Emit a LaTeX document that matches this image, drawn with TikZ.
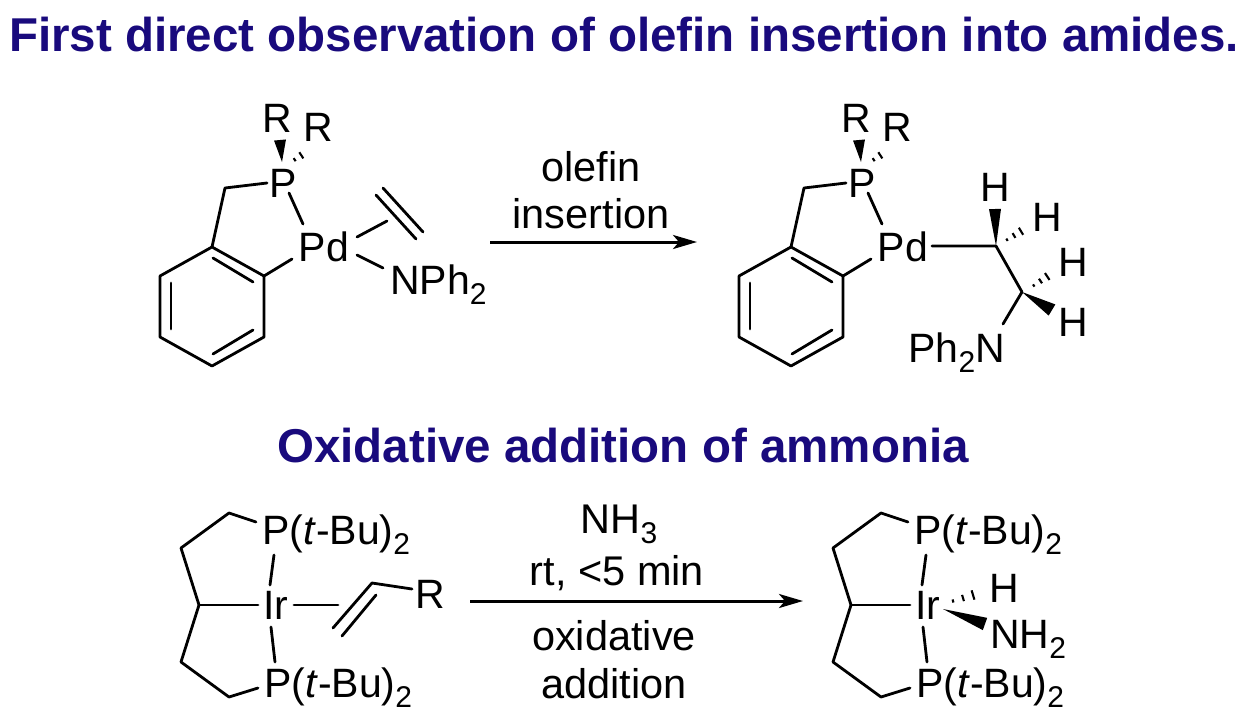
\documentclass[tikz,border=0pt]{standalone}
\usepackage{fontspec}
\setmainfont{Liberation Sans}
\usetikzlibrary{arrows.meta,calc}
\definecolor{headblue}{RGB}{25,10,125}
\newcommand{\subs}[1]{\raisebox{-0.26em}{\fontsize{30}{30}\selectfont #1}}
\newcommand{\wedgebond}[3]{\fill ($(#2)!#3pt!90:(#1)$) -- (#1) -- ($(#2)!#3pt!-90:(#1)$) -- cycle;}
\newcommand{\hashbond}[4]{\foreach \k in {1,...,#4} {
  \pgfmathsetmacro{\f}{\k/#4}
  \draw [line width=2.1pt] ($(#1)!\f!(#2)!\f*#3 pt!90:(#2)$) -- ($(#1)!\f!(#2)!\f*#3 pt!-90:(#2)$);}}
\tikzset{
  atom/.style={inner sep=0pt,font=\fontsize{41}{41}\selectfont},
  rxn/.style={inner sep=0pt,anchor=base,font=\fontsize{41.5}{41.5}\selectfont},
  head/.style={inner sep=0pt,anchor=base,text=headblue,font=\bfseries\fontsize{47.5}{47.5}\selectfont},
  bond/.style={line width=2.8pt,line cap=round,line join=round},
  rxnarrow/.style={line width=3pt,-{Stealth[length=24pt,width=14pt,inset=6pt]}},
  cyclopd/.pic={
    \coordinate (c1) at (0,0);
    \coordinate (c2) at (52,29);
    \coordinate (c3) at (52,90);
    \coordinate (c4) at (0,119);
    \coordinate (c5) at (-52,90);
    \coordinate (c6) at (-52,29);
    \coordinate (ch2) at (13,-59);
    \node [atom] (P) at (71,-64) {P};
    \node [atom] (Pd) at (112,0) {Pd};
    \node [atom] (R1) at (65,-129) {R};
    \node [atom] (R2) at (106,-120) {R};
    \coordinate (wd) at (68,-107);
    \coordinate (wa) at (70,-85);
    \coordinate (ha) at (76,-83);
    \coordinate (hb) at (96,-96);
    \coordinate (pe) at (55,-64);
    \coordinate (pdu) at (77,-54);
    \coordinate (pdv) at (91,-23);
    \coordinate (pdw) at (80,12);
    \coordinate (in1a) at (1,11);
    \coordinate (in1b) at (41,35);
    \coordinate (in2a) at (41,83);
    \coordinate (in2b) at (1,107);
    \coordinate (in3a) at (-41,36);
    \coordinate (in3b) at (-41,82);
    \draw [bond] (c1) -- (c2) -- (c3) -- (c4) -- (c5) -- (c6) -- cycle;
    \draw [bond] (in1a) -- (in1b);
    \draw [bond] (in2a) -- (in2b);
    \draw [bond] (in3a) -- (in3b);
    \draw [bond] (c1) -- (ch2) -- (pe);
    \draw [bond] (pdu) -- (pdv);
    \draw [bond] (c2) -- (pdw);
    \wedgebond{wa}{wd}{6}
    \hashbond{ha}{hb}{5.5}{3}
  },
  pincer/.pic={
    \coordinate (a1) at (-47,-92);
    \coordinate (a2) at (-95,-57);
    \coordinate (a3) at (-77,0);
    \coordinate (a4) at (-95,57);
    \coordinate (a5) at (-47,92);
    \node [atom,anchor=center] (Ir) at (0,0) {Ir};
    \node [atom,anchor=base west] (Pu) at (-14,-61) {P(\textit{t}-Bu)\subs{2}};
    \node [atom,anchor=base west] (Pl) at (-12,92) {P(\textit{t}-Bu)\subs{2}};
    \coordinate (irw) at (-18,0);
    \coordinate (iru) at (-6,-20);
    \coordinate (irl) at (-5,22);
    \coordinate (Put) at (-2,-50);
    \coordinate (Plt) at (-1,57);
    \coordinate (Pub) at (-20,-83);
    \coordinate (Plb) at (-18,83);
    \draw [bond] (Pub) -- (a1) -- (a2) -- (a3) -- (a4) -- (a5) -- (Plb);
    \draw [bond] (a3) -- (irw);
    \draw [bond] (iru) -- (Put);
    \draw [bond] (irl) -- (Plt);
  }
}
\begin{document}
\begin{tikzpicture}[x=1pt,y=-1pt]
\useasboundingbox (0,0) rectangle (1248,718);
\node [head] (title1) at (624,51) {First direct observation of olefin insertion into amides.};
\node [head] (title2) at (623,462) {Oxidative addition of ammonia};
% top left
\pic (l) at (212,247) {cyclopd};
\coordinate (ol1) at (376,195);
\coordinate (ol2) at (416,239);
\coordinate (ol3) at (383,188);
\coordinate (ol4) at (423,232);
\coordinate (pdo) at (357,237);
\coordinate (olm) at (387,221);
\coordinate (pdn) at (357,255);
\coordinate (nbd) at (383,268);
\node [atom,anchor=base west] (nph) at (390,294) {NPh\subs{2}};
\draw [bond] (ol1) -- (ol2);
\draw [bond] (ol3) -- (ol4);
\draw [bond] (pdo) -- (olm);
\draw [bond] (pdn) -- (nbd);
% top arrow
\coordinate (a1s) at (490,242);
\coordinate (a1e) at (697,242);
\draw [rxnarrow] (a1s) -- (a1e);
\node [rxn] (lab1) at (591,181) {olefin};
\node [rxn] (lab2) at (591,228) {insertion};
% top right
\pic (r) at (791,247) {cyclopd};
\coordinate (pdc) at (932,246);
\coordinate (cc1) at (996,246);
\coordinate (cc2) at (1022,292);
\coordinate (cn) at (1003,324);
\node [atom] (h1) at (995,187) {H};
\node [atom] (h2) at (1047,217) {H};
\node [atom] (h3) at (1073,262) {H};
\node [atom] (h4) at (1073,322) {H};
\node [atom,anchor=base east] (nph2) at (1005,362) {Ph\subs{2}N};
\coordinate (w1) at (995,209);
\coordinate (w2) at (1052,310);
\coordinate (h1a) at (1000,244);
\coordinate (h1b) at (1028,227);
\coordinate (h2a) at (1027,290);
\coordinate (h2b) at (1054,272);
\draw [bond] (pdc) -- (cc1) -- (cc2) -- (cn);
\wedgebond{cc1}{w1}{6}
\wedgebond{cc2}{w2}{6.5}
\hashbond{h1a}{h1b}{5.5}{4}
\hashbond{h2a}{h2b}{5.5}{4}
% bottom left
\pic (u) at (276,605) {pincer};
\coordinate (iro) at (294,605);
\coordinate (vi1) at (333,628);
\coordinate (vi2) at (372,583);
\coordinate (vi3) at (342,636);
\coordinate (vi4) at (376,595);
\coordinate (vim) at (338,605);
\coordinate (vir) at (412,589);
\node [atom,anchor=base west] (rr) at (415,608) {R};
\draw [bond] (iro) -- (vim);
\draw [bond] (vi1) -- (vi2) -- (vir);
\draw [bond] (vi3) -- (vi4);
% bottom arrow
\coordinate (a2s) at (470,601);
\coordinate (a2e) at (803,601);
\draw [rxnarrow] (a2s) -- (a2e);
\node [rxn] (lab3) at (619,533) {NH\subs{3}};
\node [rxn] (lab4) at (617,585) {rt, <5 min};
\node [rxn] (lab5) at (614,650) {oxidative};
\node [rxn] (lab6) at (614,698) {addition};
% bottom right
\pic (v) at (928,605) {pincer};
\node [atom,anchor=base west] (hh) at (989,602) {H};
\node [atom,anchor=base west] (nh2) at (990,648) {NH\subs{2}};
\coordinate (hs) at (943,604);
\coordinate (he) at (983,592);
\coordinate (ws) at (943,609);
\coordinate (we) at (985,624);
\wedgebond{ws}{we}{6.5}
\hashbond{hs}{he}{6.5}{4}
\end{tikzpicture}
\end{document}
